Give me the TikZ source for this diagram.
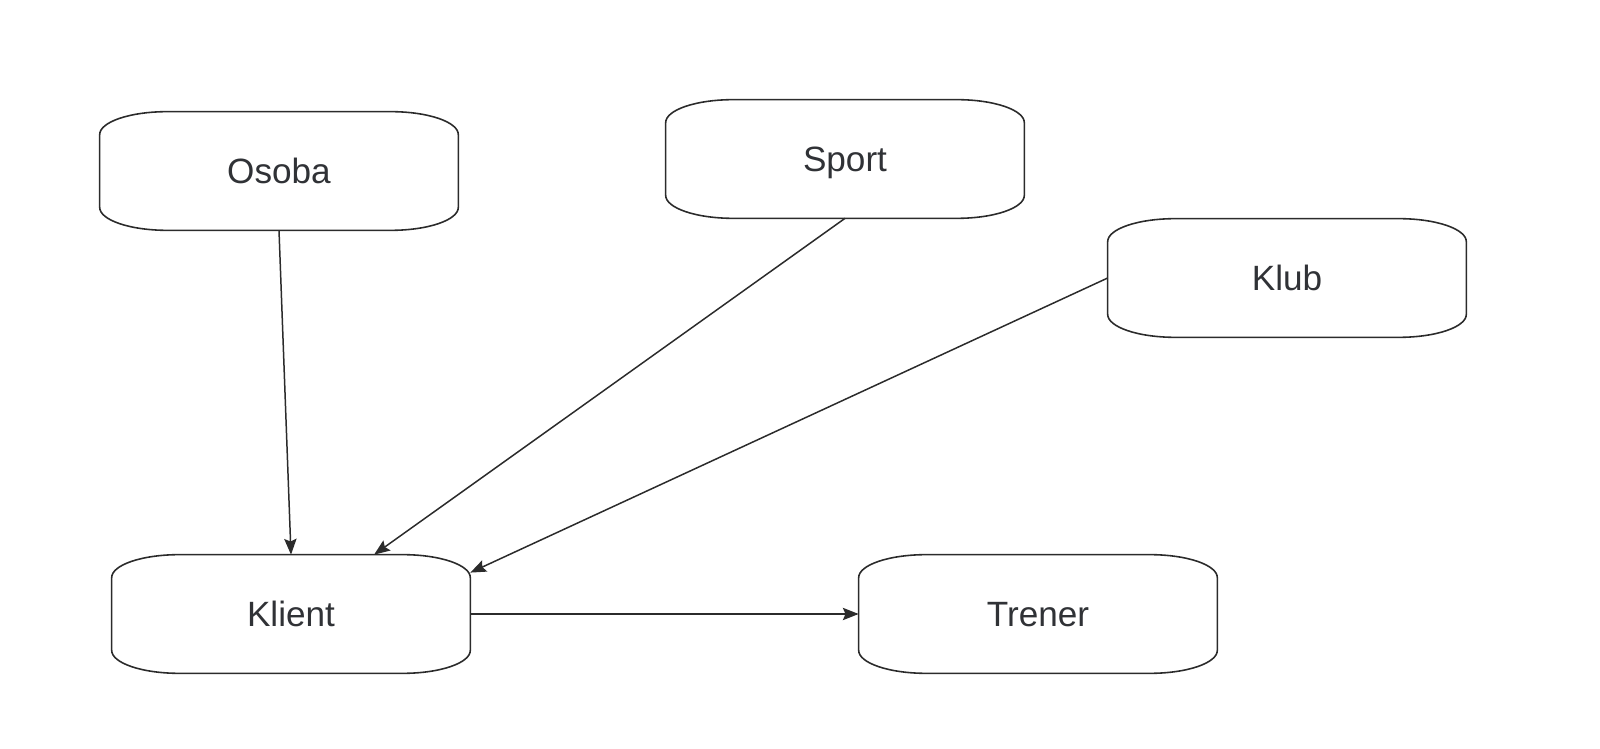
\documentclass[tikz,border=0pt]{standalone}
\usepackage{fontspec}
\setmainfont{Liberation Sans}
\usetikzlibrary{arrows.meta,calc}
\definecolor{lineDark}{HTML}{2B2B2B}
\definecolor{textDark}{HTML}{303236}

\begin{document}
\begin{tikzpicture}[
    x=0.02cm, y=0.02cm,
    box/.style={minimum width=7.16cm, minimum height=2.36cm, inner sep=0pt,
                text height=14.4pt, text depth=0pt,
                font=\fontsize{20}{24}\selectfont, text=textDark},
    outline/.style={draw=lineDark, line width=0.9pt},
    arrow/.style={-{Stealth[length=9pt, width=7pt, inset=1.5pt]}, draw=lineDark, line width=0.85pt}
]
    \useasboundingbox (0,0) rectangle (1600,-749);

    % --- Entities ---
    \node[box] (osoba) at (279, -171) {Osoba};
    \node[box] (sport) at (845, -159) {Sport};
    \node[box] (klub) at (1287, -278) {Klub};
    \node[box] (klient) at (291, -614) {Klient};
    \node[box] (trener) at (1038, -614) {Trener};

    % --- Outlines ---
    \foreach \n in {osoba,sport,klub,klient,trener}{
        \draw[outline] ($(\n.north west)+(1.35cm,0)$) -- ($(\n.north east)+(-1.35cm,0)$)
            arc[start angle=90, end angle=0, x radius=1.35cm, y radius=0.46cm]
            -- ($(\n.south east)+(0,0.46cm)$)
            arc[start angle=0, end angle=-90, x radius=1.35cm, y radius=0.46cm]
            -- ($(\n.south west)+(1.35cm,0)$)
            arc[start angle=270, end angle=180, x radius=1.35cm, y radius=0.46cm]
            -- ($(\n.north west)+(0,-0.46cm)$)
            arc[start angle=180, end angle=90, x radius=1.35cm, y radius=0.46cm]
            -- cycle;
    }

    % --- Relations ---
    \draw[arrow] (osoba.south) -- (klient.north);
    \draw[arrow] (sport.south) -- (klient);
    \draw[arrow] (klub.west) -- (klient.13);
    \draw[arrow] (klient.east) -- (trener.west);
\end{tikzpicture}
\end{document}
